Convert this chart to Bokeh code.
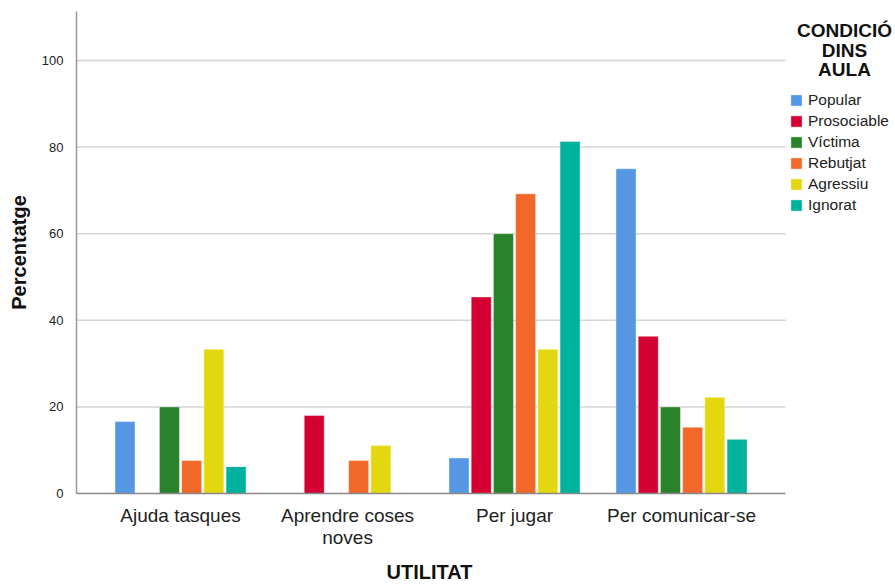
from bokeh.plotting import figure
from bokeh.models import ColumnDataSource, FixedTicker, Legend, LegendItem, Range1d, Label, Title
from bokeh.embed import file_html
from bokeh.resources import INLINE

categories = ["Ajuda tasques", "Aprendre coses\nnoves", "Per jugar", "Per comunicar-se"]
groups = ["Popular", "Prosociable", "Víctima", "Rebutjat", "Agressiu", "Ignorat"]
colors = ["#5597e3", "#d50032", "#2a832a", "#f2682a", "#e3d80f", "#00b19e"]
legend_title = ["CONDICIÓ", "DINS", "AULA"]
y_ticks = [0, 20, 40, 60, 80, 100]

popular = [16.6, 0.0, 8.2, 75.0]
prosociable = [0.0, 18.0, 45.4, 36.3]
victima = [20.0, 0.0, 60.0, 20.0]
rebutjat = [7.6, 7.6, 69.2, 15.3]
agressiu = [33.3, 11.1, 33.3, 22.2]
ignorat = [6.2, 0.0, 81.3, 12.5]
series = [popular, prosociable, victima, rebutjat, agressiu, ignorat]

FONT = "Liberation Sans"
XS, XE = 0.377, 4.623          # plotting-area extent along x (in category units)
XR = XS + 816 / 167.0          # frame also holds the legend area

p = figure(frame_width=816, frame_height=482, output_backend="svg", toolbar_location=None,
           x_range=Range1d(XS, XR), y_range=Range1d(0, 111.3),
           min_border_left=76, min_border_right=0, min_border_top=11, min_border_bottom=5)
p.outline_line_color = None

# horizontal gridlines restricted to the plotting area
gsrc = ColumnDataSource(dict(x0=[XS] * (len(y_ticks) - 1), x1=[XE] * (len(y_ticks) - 1),
                             y=y_ticks[1:]))
p.segment(x0="x0", x1="x1", y0="y", y1="y", source=gsrc, line_color="#d4d4d4", line_width=1.5)

xc = [1, 2, 3, 4]
step = 0.133
bw = 0.12
items = []
for i, (name, vals, col) in enumerate(zip(groups, series, colors)):
    xs = [c + (i - 2.5) * step for c in xc]
    src = ColumnDataSource(dict(x=xs, top=vals))
    r = p.vbar(x="x", top="top", width=bw, bottom=0, source=src,
               fill_color=col, line_color="white", line_width=0.6, line_alpha=0.7)
    items.append(LegendItem(label=name, renderers=[r]))

p.xaxis.bounds = (XS, XE)
p.xaxis.ticker = FixedTicker(ticks=xc)
p.xaxis.major_label_overrides = {c: lab for c, lab in zip(xc, categories)}
p.xaxis.major_tick_line_color = None
p.xaxis.minor_tick_line_color = None
p.xaxis.axis_line_color = "#888888"
p.xaxis.axis_line_width = 1.5
p.xaxis.major_label_text_font = FONT
p.xaxis.major_label_text_font_size = "19px"
p.xaxis.major_label_text_color = "#222222"
p.xaxis.major_label_text_line_height = 1.05
p.xaxis.major_label_standoff = 5
p.xgrid.grid_line_color = None

# x-axis title centred under the plotting area (not under the legend)
p.add_layout(Title(text="UTILITAT", align="left", offset=310, standoff=16,
                   text_font=FONT, text_font_size="20px", text_font_style="bold",
                   text_color="#111111"), "below")

p.yaxis.ticker = FixedTicker(ticks=y_ticks)
p.yaxis.major_tick_line_color = None
p.yaxis.minor_tick_line_color = None
p.yaxis.axis_line_color = "#999999"
p.yaxis.axis_line_width = 1.5
p.yaxis.major_label_text_font = FONT
p.yaxis.major_label_text_font_size = "13px"
p.yaxis.major_label_text_color = "#222222"
p.yaxis.major_label_standoff = 7
p.yaxis.axis_label = "Percentatge"
p.yaxis.axis_label_text_font = FONT
p.yaxis.axis_label_text_font_size = "20px"
p.yaxis.axis_label_text_font_style = "bold"
p.yaxis.axis_label_text_color = "#111111"
p.yaxis.axis_label_standoff = 9
p.ygrid.grid_line_color = None

legend = Legend(items=items, location=(713, 279))
legend.label_text_font = FONT
legend.label_text_font_size = "15.5px"
legend.label_text_color = "#222222"
legend.label_standoff = 5
legend.glyph_width = 14
legend.glyph_height = 14
legend.label_height = 15
legend.spacing = 3
legend.padding = 0
legend.margin = 0
legend.border_line_color = None
legend.background_fill_alpha = 0
p.add_layout(legend, "center")

for txt, yy in zip(legend_title, [463, 443, 424]):
    p.add_layout(Label(x=768, y=yy, x_units="screen", y_units="screen", text=txt,
                       text_align="center", text_baseline="middle",
                       text_font=FONT, text_font_size="19px", text_font_style="bold",
                       text_color="#111111"))

open("out.html", "w").write(file_html(p, INLINE))
